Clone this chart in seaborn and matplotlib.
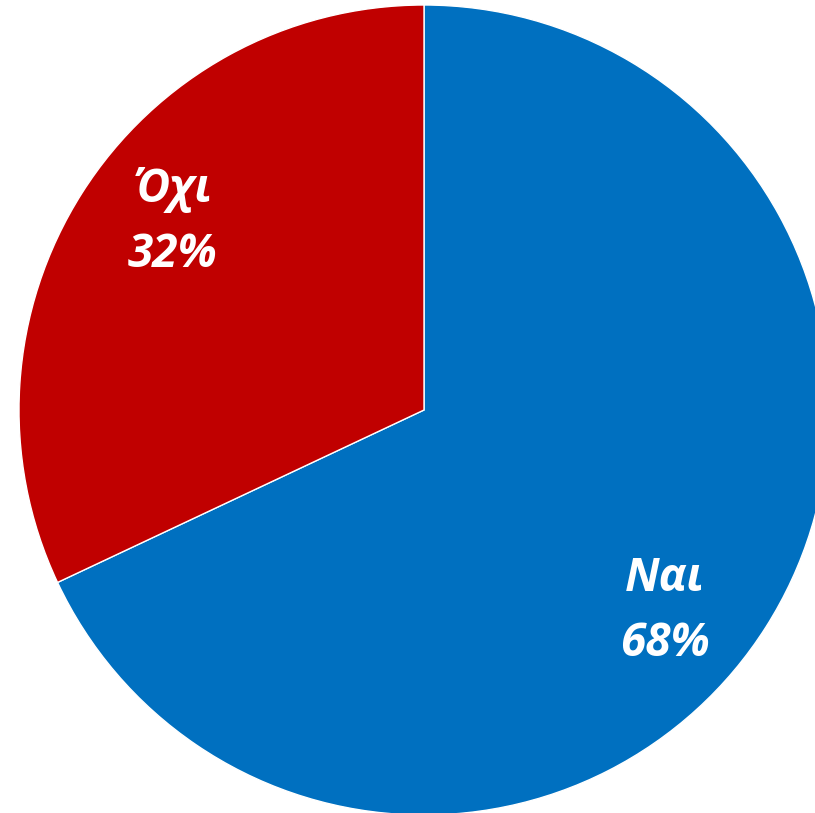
import numpy as np
import matplotlib
matplotlib.use("Agg")
import matplotlib.pyplot as plt
import seaborn as sns

categories = ["Ναι", "Όχι"]
values = [68, 32]
colors = ["#0070C0", "#C00000"]

sns.set_theme(style="white")
plt.rcParams['font.family'] = ['Open Sans', 'DejaVu Sans']

fig = plt.figure(figsize=(8.15, 8.13), dpi=100)
ax = fig.add_axes([0, 0, 1, 1])
wedges, _ = ax.pie(values, colors=colors, startangle=90, counterclock=False,
                   radius=1.0, wedgeprops=dict(edgecolor="white", linewidth=1.0))
ax.set_xlim(-424/405, (815-424)/405)
ax.set_ylim(-(813-410)/405, 410/405)
ax.set_aspect('auto')
ax.axis('off')

for w, cat, v, off in zip(wedges, categories, values, [-7.5, -4.5]):
    mid = np.deg2rad((w.theta1 + w.theta2) / 2 + off)
    r = 0.775
    x, y = r * np.cos(mid), r * np.sin(mid)
    ax.text(x, y, f"{cat}\n{v}%", ha="center", va="center", color="white",
            fontsize=33, fontweight="bold", fontstyle="italic", linespacing=1.5)

fig.savefig("out.png", dpi=100)
